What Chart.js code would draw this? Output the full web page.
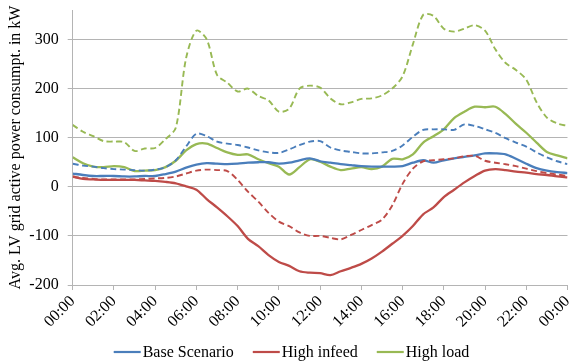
<!DOCTYPE html>
<html>
<head>
<meta charset="utf-8">
<script src="https://cdn.jsdelivr.net/npm/chart.js@4/dist/chart.umd.min.js"></script>
<style>
  html, body { margin: 0; padding: 0; background: #fff; }
  canvas { display: block; }
</style>
</head>
<body>
<canvas id="chart" width="569" height="363"></canvas>
<script>
// Time of day, half-hour steps (hours after midnight)
const HOURS = Array.from({ length: 49 }, (_, i) => i / 2);
const TICK_LABELS = ['00:00', '02:00', '04:00', '06:00', '08:00', '10:00', '12:00',
                     '14:00', '16:00', '18:00', '20:00', '22:00', '00:00'];
const SERIES = ['Base Scenario', 'High infeed', 'High load'];

// Average LV grid active power consumption in kW (solid lines)
const BASE = [27, 24, 22, 22, 22, 21, 21, 22, 22, 26, 31, 39, 45, 48, 47, 46, 47, 49, 50, 50,
              47, 49, 54, 58, 52, 49, 46, 44, 42, 41, 41, 41, 42, 49, 54, 49, 54, 58, 61, 64,
              68, 68, 66, 57, 47, 38, 33, 30, 28];
const INFEED = [21, 16, 15, 14, 14, 14, 14, 13, 12, 10, 7, 1, -6, -25, -42, -60, -80, -106, -121, -139,
                -153, -161, -172, -175, -176, -180, -172, -165, -157, -146, -132, -116, -100, -80, -56, -42, -21, -6, 9, 22,
                33, 36, 34, 31, 29, 26, 24, 21, 19];
const LOAD = [60, 48, 41, 40, 42, 40, 32, 33, 34, 40, 53, 74, 87, 88, 79, 70, 65, 66, 56, 48,
              41, 25, 40, 56, 51, 41, 34, 37, 40, 36, 41, 57, 56, 66, 90, 103, 117, 140, 153, 163,
              162, 163, 148, 128, 110, 90, 71, 64, 58];

// Dashed companions of each scenario
const BASE_DASHED = [47, 43, 41, 38, 36, 35, 34, 33, 35, 40, 54, 82, 108, 103, 92, 88, 85, 80, 74, 70,
                     69, 76, 85, 92, 93, 80, 74, 71, 68, 68, 70, 73, 84, 102, 116, 117, 117, 116, 127, 124,
                     117, 110, 99, 90, 82, 70, 60, 52, 46];
const INFEED_DASHED = [20, 18, 16, 15, 15, 15, 15, 16, 17, 18, 21, 27, 33, 35, 34, 32, 14, -10, -30, -53,
                       -71, -80, -93, -100, -100, -104, -107, -98, -88, -78, -67, -38, 6, 37, 52, 54, 56, 58, 62, 63,
                       53, 49, 46, 42, 37, 32, 28, 25, 22];
const LOAD_DASHED = [126, 112, 103, 93, 92, 91, 73, 78, 79, 97, 120, 262, 318, 300, 228, 212, 194, 200, 185, 176,
                     153, 159, 200, 206, 202, 180, 168, 172, 179, 180, 186, 200, 225, 290, 350, 348, 322, 316, 322, 329,
                     318, 280, 252, 238, 218, 172, 141, 129, 124];

const BLUE = '#4a7ebb', RED = '#be4b48', GREEN = '#98b954';
const GRID = '#b4b4b4';
const FONT = '"Liberation Serif", "Times New Roman", serif';

const pts = vals => vals.map((v, i) => ({ x: HOURS[i], y: v }));

function line(label, vals, color, dashed) {
  return {
    label,
    data: pts(vals),
    borderColor: color,
    backgroundColor: color,
    borderWidth: dashed ? 1.9 : 2.3,
    borderDash: dashed ? [6, 3.5] : [],
    pointRadius: 0,
    tension: 0.3,
    fill: false,
    inLegend: !dashed
  };
}

// Legend row drawn under the axis: short line sample, then the name
const legendRow = {
  id: 'legendRow',
  afterDraw(chart) {
    const ctx = chart.ctx;
    const items = chart.data.datasets.filter(d => d.inLegend);
    ctx.save();
    ctx.font = '16px ' + FONT;
    const lineLen = 27, gap = 2, spacing = 19;
    const widths = items.map(d => lineLen + gap + ctx.measureText(d.label).width);
    const total = widths.reduce((a, b) => a + b, 0) + spacing * (items.length - 1);
    let x = 291.5 - total / 2;
    const y = 352;
    items.forEach((d, i) => {
      ctx.strokeStyle = d.borderColor;
      ctx.lineWidth = 2.2;
      ctx.setLineDash([]);
      ctx.beginPath();
      ctx.moveTo(x, y);
      ctx.lineTo(x + lineLen, y);
      ctx.stroke();
      ctx.fillStyle = '#000';
      ctx.textBaseline = 'middle';
      ctx.textAlign = 'left';
      ctx.fillText(d.label, x + lineLen + gap, y + 1);
      x += widths[i] + spacing;
    });
    ctx.restore();
  }
};

new Chart(document.getElementById('chart'), {
  type: 'line',
  data: {
    datasets: [
      line(SERIES[0], BASE_DASHED, BLUE, true),
      line(SERIES[1], INFEED_DASHED, RED, true),
      line(SERIES[2], LOAD_DASHED, GREEN, true),
      line(SERIES[0], BASE, BLUE, false),
      line(SERIES[1], INFEED, RED, false),
      line(SERIES[2], LOAD, GREEN, false)
    ]
  },
  options: {
    responsive: false,
    animation: false,
    devicePixelRatio: 1,
    layout: { padding: { top: 10, right: 1.5, left: 0, bottom: 0 } },
    plugins: {
      legend: { display: false },
      tooltip: { enabled: false }
    },
    scales: {
      x: {
        type: 'linear',
        min: 0,
        max: 24,
        grid: { display: true, drawOnChartArea: false, drawTicks: true, tickLength: 5, color: GRID },
        border: { display: true, color: GRID, width: 1 },
        ticks: {
          stepSize: 2,
          autoSkip: false,
          maxRotation: 45,
          minRotation: 45,
          padding: 2,
          color: '#000',
          font: { family: FONT, size: 16 },
          callback: v => TICK_LABELS[Math.round(v / 2)]
        },
        afterFit(scale) {
          scale.height = 78;
          scale.paddingLeft = 0;
          scale.paddingRight = 0;
        }
      },
      y: {
        min: -200,
        max: 360,
        grid: { color: GRID, tickLength: 5, drawTicks: true },
        border: { display: true, color: GRID, width: 1 },
        ticks: {
          stepSize: 100,
          padding: 9,
          color: '#000',
          font: { family: FONT, size: 16 }
        },
        afterBuildTicks(scale) {
          scale.ticks = scale.ticks.filter(t => t.value % 100 === 0);
        },
        title: {
          display: true,
          text: 'Avg. LV grid active power consumpt. in kW',
          color: '#000',
          font: { family: FONT, size: 16 },
          padding: { top: 6, bottom: 0 }
        },
        afterFit(scale) {
          scale.width = 72.7;
          scale.paddingTop = 0;
          scale.paddingBottom = 0;
        }
      }
    }
  },
  plugins: [legendRow]
});
</script>
</body>
</html>
